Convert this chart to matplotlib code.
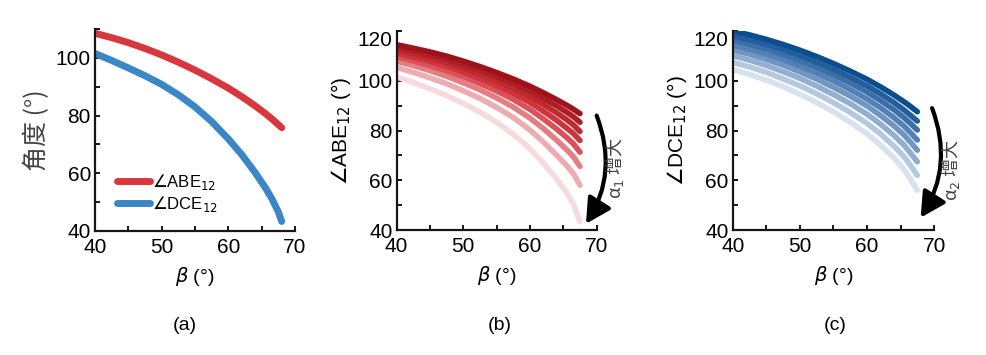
import matplotlib
matplotlib.use("Agg")
import matplotlib.pyplot as plt
from matplotlib.colors import LinearSegmentedColormap
from matplotlib.patches import FancyArrowPatch
from matplotlib.ticker import MultipleLocator

# (a) 两条曲线
beta_a = [40, 42.5, 45, 47.5, 50, 52.5, 55, 57.5, 60, 62, 64, 65.5, 66.5, 67.5, 68]
abe_a = [108.5, 107.0, 105.25, 103.25, 101.0, 98.5, 95.75, 92.75, 89.5,
         86.6, 83.4, 80.8, 78.9, 76.85, 75.8]
dce_a = [101.5, 99.1, 96.5, 93.8, 90.8, 87.2, 83.0, 77.9, 71.9,
         66.5, 60.3, 55.2, 51.3, 46.6, 43.3]

# (b), (c) 不同 α 的曲线，α 从小到大
beta_bc = [40, 42.5, 45, 47.5, 50, 52.5, 55, 57.5, 60, 62, 64, 65.5, 66.5, 67.5]
abe_b = [
    [114.5, 113.1, 111.6, 109.9, 107.9, 105.7, 103.3, 100.7, 97.8, 95.2, 92.4, 90.2, 88.6, 86.8],
    [113.5, 112.0, 110.4, 108.6, 106.5, 104.2, 101.7, 98.9, 95.8, 92.9, 89.9, 87.4, 85.6, 83.3],
    [112.3, 110.8, 109.2, 107.3, 105.1, 102.7, 100.0, 97.0, 93.6, 90.5, 87.1, 84.4, 82.3, 79.6],
    [111.1, 109.5, 107.8, 105.8, 103.5, 100.9, 98.1, 94.9, 91.3, 87.8, 84.1, 81.0, 78.8, 76.0],
    [109.7, 108.0, 106.1, 104.0, 101.6, 98.9, 95.9, 92.5, 88.5, 84.7, 80.6, 77.2, 74.7, 71.3],
    [107.9, 106.1, 104.1, 101.8, 99.2, 96.4, 93.1, 89.4, 85.0, 80.8, 76.1, 72.3, 69.5, 65.6],
    [105.4, 103.4, 101.2, 98.8, 96.0, 92.9, 89.3, 85.2, 80.2, 75.4, 70.1, 65.9, 62.7, 58.0],
    [101.5, 99.3, 96.8, 94.0, 90.9, 87.4, 83.3, 78.5, 72.6, 66.9, 60.5, 55.0, 50.5, 43.3],
]
dce_c = [
    [120.0, 118.45, 116.65, 114.6, 112.3, 109.75, 106.95, 103.9, 100.6, 97.6, 94.3, 91.6, 89.65, 87.55],
    [118.1, 116.5, 114.7, 112.6, 110.2, 107.5, 104.6, 101.4, 98.0, 94.8, 91.3, 88.3, 86.1, 83.8],
    [116.4, 114.7, 112.8, 110.6, 108.1, 105.4, 102.4, 99.1, 95.5, 92.1, 88.4, 85.2, 82.8, 80.2],
    [114.4, 112.7, 110.75, 108.5, 105.9, 103.1, 100.0, 96.5, 92.7, 89.2, 85.2, 81.8, 79.1, 76.2],
    [112.4, 110.7, 108.6, 106.3, 103.6, 100.7, 97.4, 93.85, 89.9, 86.1, 81.9, 78.3, 75.3, 72.1],
    [110.1, 108.3, 106.15, 103.7, 101.0, 97.9, 94.5, 90.8, 86.6, 82.6, 78.1, 74.2, 70.9, 67.4],
    [107.4, 105.6, 103.4, 100.8, 98.0, 94.8, 91.2, 87.3, 82.9, 78.7, 73.8, 69.6, 65.9, 62.0],
    [104.5, 102.55, 100.25, 97.6, 94.6, 91.25, 87.55, 83.4, 78.7, 74.2, 69.0, 64.4, 60.35, 56.05],
]

plt.rcParams['font.family'] = ['Liberation Sans', 'DejaVu Sans', 'Noto Sans CJK SC']
plt.rcParams['mathtext.fontset'] = 'dejavusans'
cjk = ['Noto Sans CJK SC', 'DejaVu Sans']

reds = LinearSegmentedColormap.from_list("r", ["#a0121a", "#d63a40", "#f6dadc"])
blues = LinearSegmentedColormap.from_list("b", ["#0a4e90", "#5f88bb", "#d6e2ef"])

fig = plt.figure(figsize=(9.87, 3.55), dpi=100)
ax_a = fig.add_axes([0.0963, 0.3493, 0.2026, 0.569])
ax_b = fig.add_axes([0.4019, 0.352, 0.2026, 0.5606])
ax_c = fig.add_axes([0.7424, 0.352, 0.2040, 0.5606])


def style(ax, ytop, yticks):
    ax.set_xlim(40, 70)
    ax.set_ylim(40, ytop)
    for s in ['top', 'right']:
        ax.spines[s].set_visible(False)
    for s in ['left', 'bottom']:
        ax.spines[s].set_linewidth(1.6)
        ax.spines[s].set_color('#1a1414')
    ax.set_xticks([40, 50, 60, 70])
    ax.xaxis.set_minor_locator(MultipleLocator(5))
    ax.set_yticks(yticks)
    ax.yaxis.set_minor_locator(MultipleLocator(10))
    ax.tick_params(which='both', direction='in', width=1.4, length=3.5,
                   labelsize=15, pad=3, color='#1a1414')
    ax.tick_params(axis='x', pad=5)
    ax.set_xlabel(r"$\beta$ (°)", fontsize=14, labelpad=6)


# (a)
style(ax_a, 110, [40, 60, 80, 100])
ax_a.plot(beta_a, abe_a, color="#d8373e", lw=5, solid_capstyle='round',
          label=r"$\angle$ABE$_{12}$")
ax_a.plot(beta_a, dce_a, color="#3b86c7", lw=5, solid_capstyle='round',
          label=r"$\angle$DCE$_{12}$")
ax_a.set_ylabel("角度 (°)", fontsize=18, color='#444444', family=cjk, labelpad=4)
ax_a.legend(loc='lower left', bbox_to_anchor=(0.035, 0.01), frameon=False,
            fontsize=12, handlelength=2.0, handletextpad=0.1, labelspacing=0.1)

# (b)
style(ax_b, 120, [40, 60, 80, 100, 120])
n = len(abe_b)
for i in range(n - 1, -1, -1):
    ax_b.plot(beta_bc, abe_b[i], color=reds(i / (n - 1)), lw=4,
              solid_capstyle='round')
ax_b.set_ylabel(r"$\angle$ABE$_{12}$ (°)", fontsize=15, labelpad=3)

# (c)
style(ax_c, 120, [40, 60, 80, 100, 120])
for i in range(n - 1, -1, -1):
    ax_c.plot(beta_bc, dce_c[i], color=blues(i / (n - 1)), lw=4,
              solid_capstyle='round')
ax_c.set_ylabel(r"$\angle$DCE$_{12}$ (°)", fontsize=15, labelpad=3)

for ax in (ax_b, ax_c):
    ax.get_yticklabels()[-1].set_va('top')

# 箭头和说明
arr_b = FancyArrowPatch((70.0, 86.0), (68.4, 42.5), connectionstyle="arc3,rad=-0.25",
                        arrowstyle="-|>,head_length=0.75,head_width=0.4",
                        mutation_scale=20, lw=3, color='black', clip_on=False,
                        shrinkA=0, shrinkB=0)
ax_b.add_patch(arr_b)
ax_b.text(72.7, 65, r"α$_1$ 增大", rotation=90, ha='center', va='center',
          fontsize=13, color='#444444', family=cjk)

arr_c = FancyArrowPatch((69.7, 89.0), (68.0, 45.0), connectionstyle="arc3,rad=-0.25",
                        arrowstyle="-|>,head_length=0.75,head_width=0.4",
                        mutation_scale=20, lw=3, color='black', clip_on=False,
                        shrinkA=0, shrinkB=0)
ax_c.add_patch(arr_c)
ax_c.text(72.4, 64, r"α$_2$ 增大", rotation=90, ha='center', va='center',
          fontsize=13, color='#444444', family=cjk)

# 子图编号
for x, lab in [(185, "(a)"), (500, "(b)"), (835, "(c)")]:
    fig.text(x / 987, 1 - 325 / 355, lab, ha='center', va='center', fontsize=14)

fig.savefig("out.png", dpi=100, facecolor='white')
